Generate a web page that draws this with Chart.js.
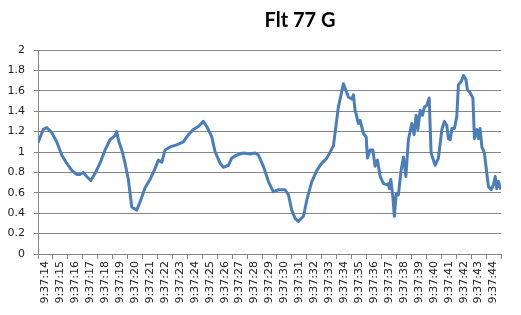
<!DOCTYPE html>
<html>
<head>
<meta charset="utf-8">
<script src="https://cdn.jsdelivr.net/npm/chart.js@4"></script>
<style>
  body { margin: 0; background: #fff; }
</style>
</head>
<body>
<canvas id="chartG" width="521" height="315"></canvas>
<script>
// Flt 77 G — trazado de G contra hora

const titulo = 'Flt 77 G';

// etiquetas del eje x (una por segundo)
const horas = ['9:37:14','9:37:15','9:37:16','9:37:17','9:37:18','9:37:19','9:37:20','9:37:21',
  '9:37:22','9:37:23','9:37:24','9:37:25','9:37:26','9:37:27','9:37:28','9:37:29','9:37:30',
  '9:37:31','9:37:32','9:37:33','9:37:34','9:37:35','9:37:36','9:37:37','9:37:38','9:37:39',
  '9:37:40','9:37:41','9:37:42','9:37:43','9:37:44'];

// segundos desde 9:37:14
const segundos = [0,0.35,0.58,0.92,1.25,1.59,1.92,2.26,2.59,2.81,3.03,3.26,3.53,3.82,4.15,4.49,
  4.82,5.16,5.27,5.38,5.61,5.83,6.05,6.28,6.61,6.83,7.17,7.5,7.84,8.06,8.29,8.51,8.84,9.29,9.73,
  10.07,10.4,10.74,11.07,11.3,11.63,11.86,12.19,12.41,12.75,12.97,13.31,13.75,14.2,14.53,14.76,
  15.09,15.43,15.76,16.1,16.54,16.77,16.99,17.21,17.43,17.77,18.0,18.33,18.67,19.0,19.34,19.78,
  20.11,20.45,20.78,21.01,21.12,21.23,21.45,21.57,21.79,21.97,22.06,22.24,22.42,22.57,22.73,
  22.91,23.13,23.36,23.46,23.53,23.62,23.76,23.86,23.98,24.13,24.31,24.47,24.63,24.8,25.03,
  25.18,25.32,25.43,25.59,25.74,25.87,26.04,26.19,26.32,26.59,26.81,27.04,27.21,27.37,27.48,
  27.6,27.71,27.88,28.04,28.15,28.33,28.49,28.65,28.75,28.93,29.12,29.22,29.38,29.49,29.6,
  29.72,29.89,30.05,30.16,30.34,30.5,30.61,30.72,30.83,31.0];

// G
const valoresG = [1.09,1.22,1.24,1.19,1.10,0.97,0.89,0.82,0.78,0.78,0.80,0.76,0.72,0.79,0.89,1.02,
  1.12,1.16,1.20,1.12,1.02,0.89,0.73,0.46,0.43,0.51,0.65,0.73,0.84,0.92,0.90,1.02,1.05,1.07,1.10,
  1.17,1.22,1.25,1.30,1.25,1.15,1.00,0.89,0.85,0.87,0.94,0.97,0.99,0.98,0.99,0.97,
  0.86,0.71,0.61,0.63,0.63,0.58,0.43,0.35,0.32,0.37,0.53,0.71,0.82,0.89,0.94,1.06,
  1.44,1.67,1.54,1.52,1.56,1.41,1.28,1.31,1.18,1.15,0.94,1.02,1.02,0.86,0.92,
  0.76,0.69,0.68,0.69,0.64,0.73,0.56,0.37,0.59,0.58,0.82,0.95,0.76,1.12,1.28,
  1.17,1.36,1.22,1.41,1.36,1.44,1.46,1.53,0.99,0.87,0.94,1.22,1.30,1.26,1.13,
  1.12,1.23,1.23,1.35,1.66,1.69,1.75,1.71,1.61,1.58,1.53,1.13,1.22,1.13,1.23,
  1.05,0.99,0.79,0.66,0.63,0.68,0.76,0.64,0.71,0.63];

const yTicks = { min: 0, max: 2, step: 0.2 };

const puntos = segundos.map((s, i) => ({ x: s, y: valoresG[i] }));

// titulo dibujado a mano (Excel lo centra sobre todo el grafico con leyenda)
const tituloPlugin = {
  id: 'tituloExcel',
  afterDraw(chart) {
    const ctx = chart.ctx;
    ctx.save();
    ctx.font = 'bold 20px Lato';
    ctx.fillStyle = '#000';
    ctx.textAlign = 'center';
    ctx.textBaseline = 'alphabetic';
    ctx.fillText(titulo, 300, 27);
    ctx.restore();
  }
};

new Chart(document.getElementById('chartG'), {
  type: 'line',
  data: {
    datasets: [{
      data: puntos,
      borderColor: '#4A7EBB',
      borderWidth: 3,
      pointRadius: 0,
      tension: 0,
      borderJoinStyle: 'round',
      fill: false
    }]
  },
  options: {
    responsive: false,
    animation: false,
    layout: { padding: { top: 50, right: 20, left: 0, bottom: 0 } },
    plugins: { legend: { display: false }, tooltip: { enabled: false } },
    scales: {
      x: {
        type: 'linear',
        min: 0,
        max: horas.length,
        afterBuildTicks: s => { s.ticks = horas.map((h, i) => ({ value: i + 0.5 })); },
        afterFit: s => { s.height = 61; },
        grid: { offset: true, drawOnChartArea: false, color: '#868686', tickLength: 5 },
        border: { color: '#868686' },
        ticks: {
          autoSkip: false,
          minRotation: 90,
          maxRotation: 90,
          padding: 2,
          color: '#222',
          font: { family: 'DejaVu Sans', size: 11 },
          callback: (v, i) => horas[i]
        }
      },
      y: {
        min: yTicks.min,
        max: yTicks.max,
        afterFit: s => { s.width = 38; },
        grid: { color: '#868686', tickLength: 4 },
        border: { color: '#868686' },
        ticks: {
          stepSize: yTicks.step,
          padding: 9,
          color: '#222',
          font: { family: 'DejaVu Sans', size: 11 },
          callback: v => String(Math.round(v * 10) / 10)
        }
      }
    }
  },
  plugins: [tituloPlugin]
});
</script>
</body>
</html>
